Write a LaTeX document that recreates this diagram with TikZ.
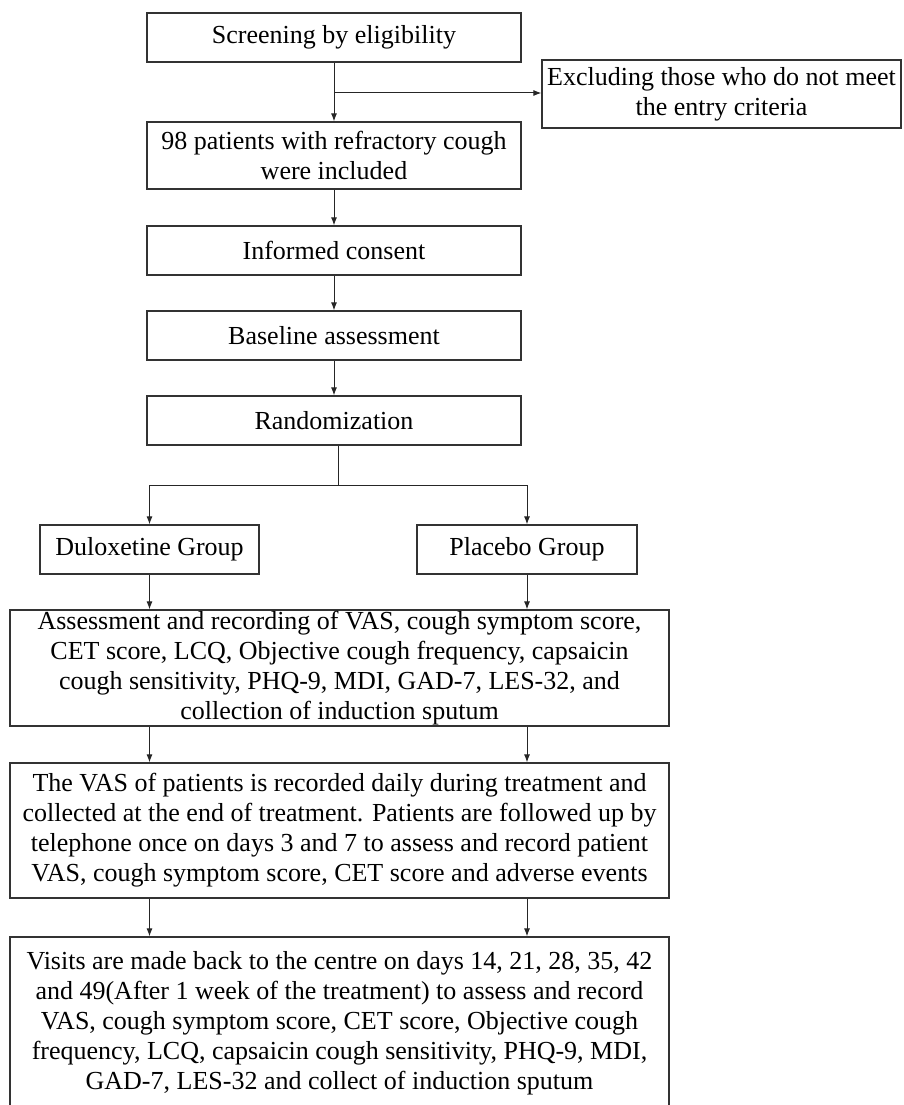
\documentclass[tikz,border=0pt]{standalone}
\usepackage{fontspec}
\setmainfont{Liberation Serif}
\usetikzlibrary{arrows.meta}
\pgfdeclarelayer{edgelayer}
\pgfdeclarelayer{nodelayer}
\pgfsetlayers{edgelayer,nodelayer,main}
\tikzset{font=\fontsize{26}{30}\selectfont}
\tikzstyle{none}=[inner sep=0pt]
\tikzstyle{box}=[draw=black!80,line width=1.2pt,fill=white,inner sep=0pt,align=center]
\tikzstyle{arr}=[draw=black!85,line width=1pt,-{Latex[length=8pt,width=6pt]}]
\tikzstyle{ln}=[draw=black!85,line width=1pt]

\begin{document}
\begin{tikzpicture}[x=1pt,y=-1pt]
	\useasboundingbox (0,0) rectangle (903,1105);
	\begin{pgfonlayer}{nodelayer}
		\node [style=box,minimum width=374,minimum height=49] (0) at (334, 37.5) {Screening by eligibility};
		\node [style=box,minimum width=359,minimum height=68] (1) at (721.5, 94) {Excluding those who do not meet\\the entry criteria};
		\node [style=box,minimum width=374,minimum height=67] (2) at (334, 155.5) {98 patients with refractory cough\\were included};
		\node [style=box,minimum width=374,minimum height=49] (3) at (334, 250.5) {Informed consent};
		\node [style=box,minimum width=374,minimum height=49] (4) at (334, 335.5) {Baseline assessment};
		\node [style=box,minimum width=374,minimum height=49] (5) at (334, 420.5) {Randomization};
		\node [style=box,minimum width=219,minimum height=49] (6) at (149.5, 549.5) {Duloxetine Group};
		\node [style=box,minimum width=220,minimum height=49] (7) at (527, 549.5) {Placebo Group};
		\node [style=box,minimum width=659,minimum height=116] (8) at (339.5, 668) {Assessment and recording of VAS, cough symptom score,\\CET score, LCQ, Objective cough frequency, capsaicin\\cough sensitivity, PHQ-9, MDI, GAD-7, LES-32, and\\collection of induction sputum};
		\node [style=box,minimum width=659,minimum height=135] (9) at (339.5, 830.5) {The VAS of patients is recorded daily during treatment and\\collected at the end of treatment. Patients are followed up by\\telephone once on days 3 and 7 to assess and record patient\\VAS, cough symptom score, CET score and adverse events};
		\node [style=box,minimum width=659,minimum height=173] (10) at (339.5, 1023.5) {Visits are made back to the centre on days 14, 21, 28, 35, 42\\and 49(After 1 week of the treatment) to assess and record\\VAS, cough symptom score, CET score, Objective cough\\frequency, LCQ, capsaicin cough sensitivity, PHQ-9, MDI,\\GAD-7, LES-32 and collect of induction sputum};
		\coordinate (b) at (334, 93);
		\coordinate (r) at (338, 485);
	\end{pgfonlayer}
	\begin{pgfonlayer}{edgelayer}
		\draw [style=arr] (0.south) to (2.north);
		\draw [style=arr] (b) to (b -| 1.west);
		\draw [style=arr] (2.south) to (3.north);
		\draw [style=arr] (3.south) to (4.north);
		\draw [style=arr] (4.south) to (5.north);
		\draw [style=ln] (5.south -| r) to (r);
		\draw [style=arr] (r) -| (6.north);
		\draw [style=arr] (r) -| (7.north);
		\draw [style=arr] (6.south) to (6.south |- 8.north);
		\draw [style=arr] (7.south) to (7.south |- 8.north);
		\draw [style=arr] (8.south -| 6.south) to (9.north -| 6.south);
		\draw [style=arr] (8.south -| 7.south) to (9.north -| 7.south);
		\draw [style=arr] (9.south -| 6.south) to (10.north -| 6.south);
		\draw [style=arr] (9.south -| 7.south) to (10.north -| 7.south);
	\end{pgfonlayer}
\end{tikzpicture}
\end{document}
